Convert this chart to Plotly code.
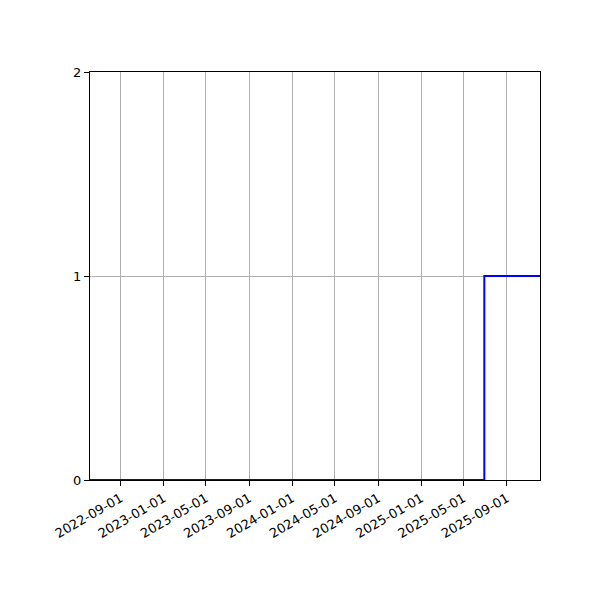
import plotly.graph_objects as go

# step data
dates = ["2022-06-06", "2025-06-29", "2025-12-04"]
values = [0, 1, 1]

tick_dates = ["2022-09-01", "2023-01-01", "2023-05-01", "2023-09-01", "2024-01-01",
              "2024-05-01", "2024-09-01", "2025-01-01", "2025-05-01", "2025-09-01"]
y_ticks = [0, 1, 2]

fig = go.Figure()
fig.add_trace(go.Scatter(
    x=dates, y=values, mode="lines",
    line=dict(color="blue", width=2, shape="hv"),
    showlegend=False,
))

axis_style = dict(
    showline=True, linecolor="black", linewidth=1, mirror=True,
    ticks="outside", ticklen=5, tickcolor="black",
    showgrid=True, gridcolor="#b0b0b0", gridwidth=1,
    zeroline=False,
    tickfont=dict(family="DejaVu Sans", size=13, color="black"),
)

# the page adds an 8px body margin, so shift the plot box up/left
fig.update_layout(
    width=600, height=600,
    margin=dict(l=82, r=68, t=64, b=128),
    plot_bgcolor="white", paper_bgcolor="white",
    xaxis=dict(range=[dates[0], dates[-1]], tickvals=tick_dates, ticktext=tick_dates,
               tickangle=-30, **axis_style),
    yaxis=dict(range=[0, 2], tickvals=y_ticks, **axis_style),
)

fig.write_html("out.html")
